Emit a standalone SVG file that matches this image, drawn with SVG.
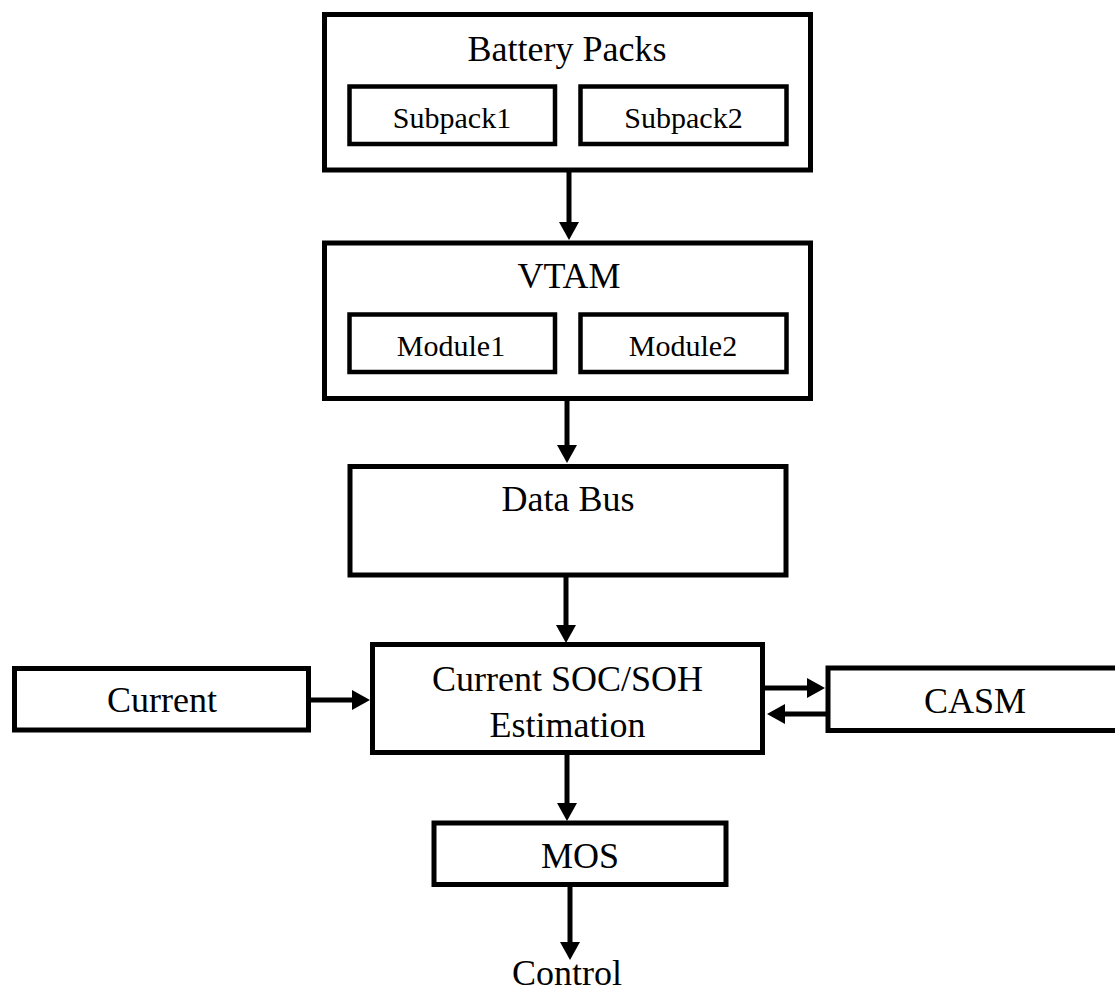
<svg xmlns="http://www.w3.org/2000/svg" width="1115" height="993" viewBox="0 0 1115 993">
  <style>
    .box { fill: #ffffff; stroke: #000000; stroke-width: 5; }
    .sub { fill: #ffffff; stroke: #000000; stroke-width: 4.5; }
    .lbl { font-family: "Liberation Serif", "Times New Roman", serif; font-size: 36px; fill: #000000; text-anchor: middle; }
    .slbl { font-family: "Liberation Serif", "Times New Roman", serif; font-size: 30px; fill: #000000; text-anchor: middle; }
    .wire { fill: none; stroke: #000000; stroke-width: 5; marker-end: url(#head); }
  </style>
  <defs>
    <marker id="head" markerUnits="userSpaceOnUse" markerWidth="18" markerHeight="20" refX="0" refY="10" orient="auto" viewBox="0 0 18 20">
      <path d="M0,0 L18,10 L0,20 Z" fill="#000000"/>
    </marker>
  </defs>
  <rect width="1115" height="993" fill="#ffffff"/>

  <g id="battery-packs">
    <rect class="box" x="324.5" y="14.5" width="486" height="155.5"/>
    <text class="lbl" x="567" y="61">Battery Packs</text>
  </g>
  <g id="subpack1">
    <rect class="sub" x="349.5" y="86.5" width="205.5" height="57.5"/>
    <text class="slbl" x="452" y="128">Subpack1</text>
  </g>
  <g id="subpack2">
    <rect class="sub" x="580.5" y="86.5" width="206" height="57.5"/>
    <text class="slbl" x="683.5" y="128">Subpack2</text>
  </g>

  <g id="vtam">
    <rect class="box" x="324.5" y="243" width="486" height="155.5"/>
    <text class="lbl" x="569" y="288">VTAM</text>
  </g>
  <g id="module1">
    <rect class="sub" x="349.5" y="314.5" width="205.5" height="57.5"/>
    <text class="slbl" x="451" y="356">Module1</text>
  </g>
  <g id="module2">
    <rect class="sub" x="580.5" y="314.5" width="206" height="57.5"/>
    <text class="slbl" x="683" y="356">Module2</text>
  </g>

  <g id="data-bus">
    <rect class="box" x="350" y="466.5" width="436" height="108.5"/>
    <text class="lbl" x="568" y="511">Data Bus</text>
  </g>

  <g id="estimation">
    <rect class="box" x="372.5" y="644.5" width="390" height="108"/>
    <text class="lbl" x="567.5" y="691">Current SOC/SOH</text>
    <text class="lbl" x="567.5" y="737">Estimation</text>
  </g>

  <g id="current">
    <rect class="box" x="14.5" y="668.5" width="294" height="61.5"/>
    <text class="lbl" x="162" y="712">Current</text>
  </g>

  <g id="casm">
    <rect class="box" x="828" y="668" width="300" height="62.5"/>
    <text class="lbl" x="975" y="713">CASM</text>
  </g>

  <g id="mos">
    <rect class="box" x="434" y="823" width="292" height="61.5"/>
    <text class="lbl" x="580" y="868">MOS</text>
  </g>

  <g id="control">
    <text class="lbl" x="567" y="985">Control</text>
  </g>

  <g id="connectors">
    <path class="wire" d="M569,172 V222"/>
    <path class="wire" d="M567,401 V445"/>
    <path class="wire" d="M566,577 V625"/>
    <path class="wire" d="M311,700 H352"/>
    <path class="wire" d="M765,688 H807"/>
    <path class="wire" d="M826,714 H785"/>
    <path class="wire" d="M567,755 V803"/>
    <path class="wire" d="M570,887 V942"/>
  </g>
</svg>
